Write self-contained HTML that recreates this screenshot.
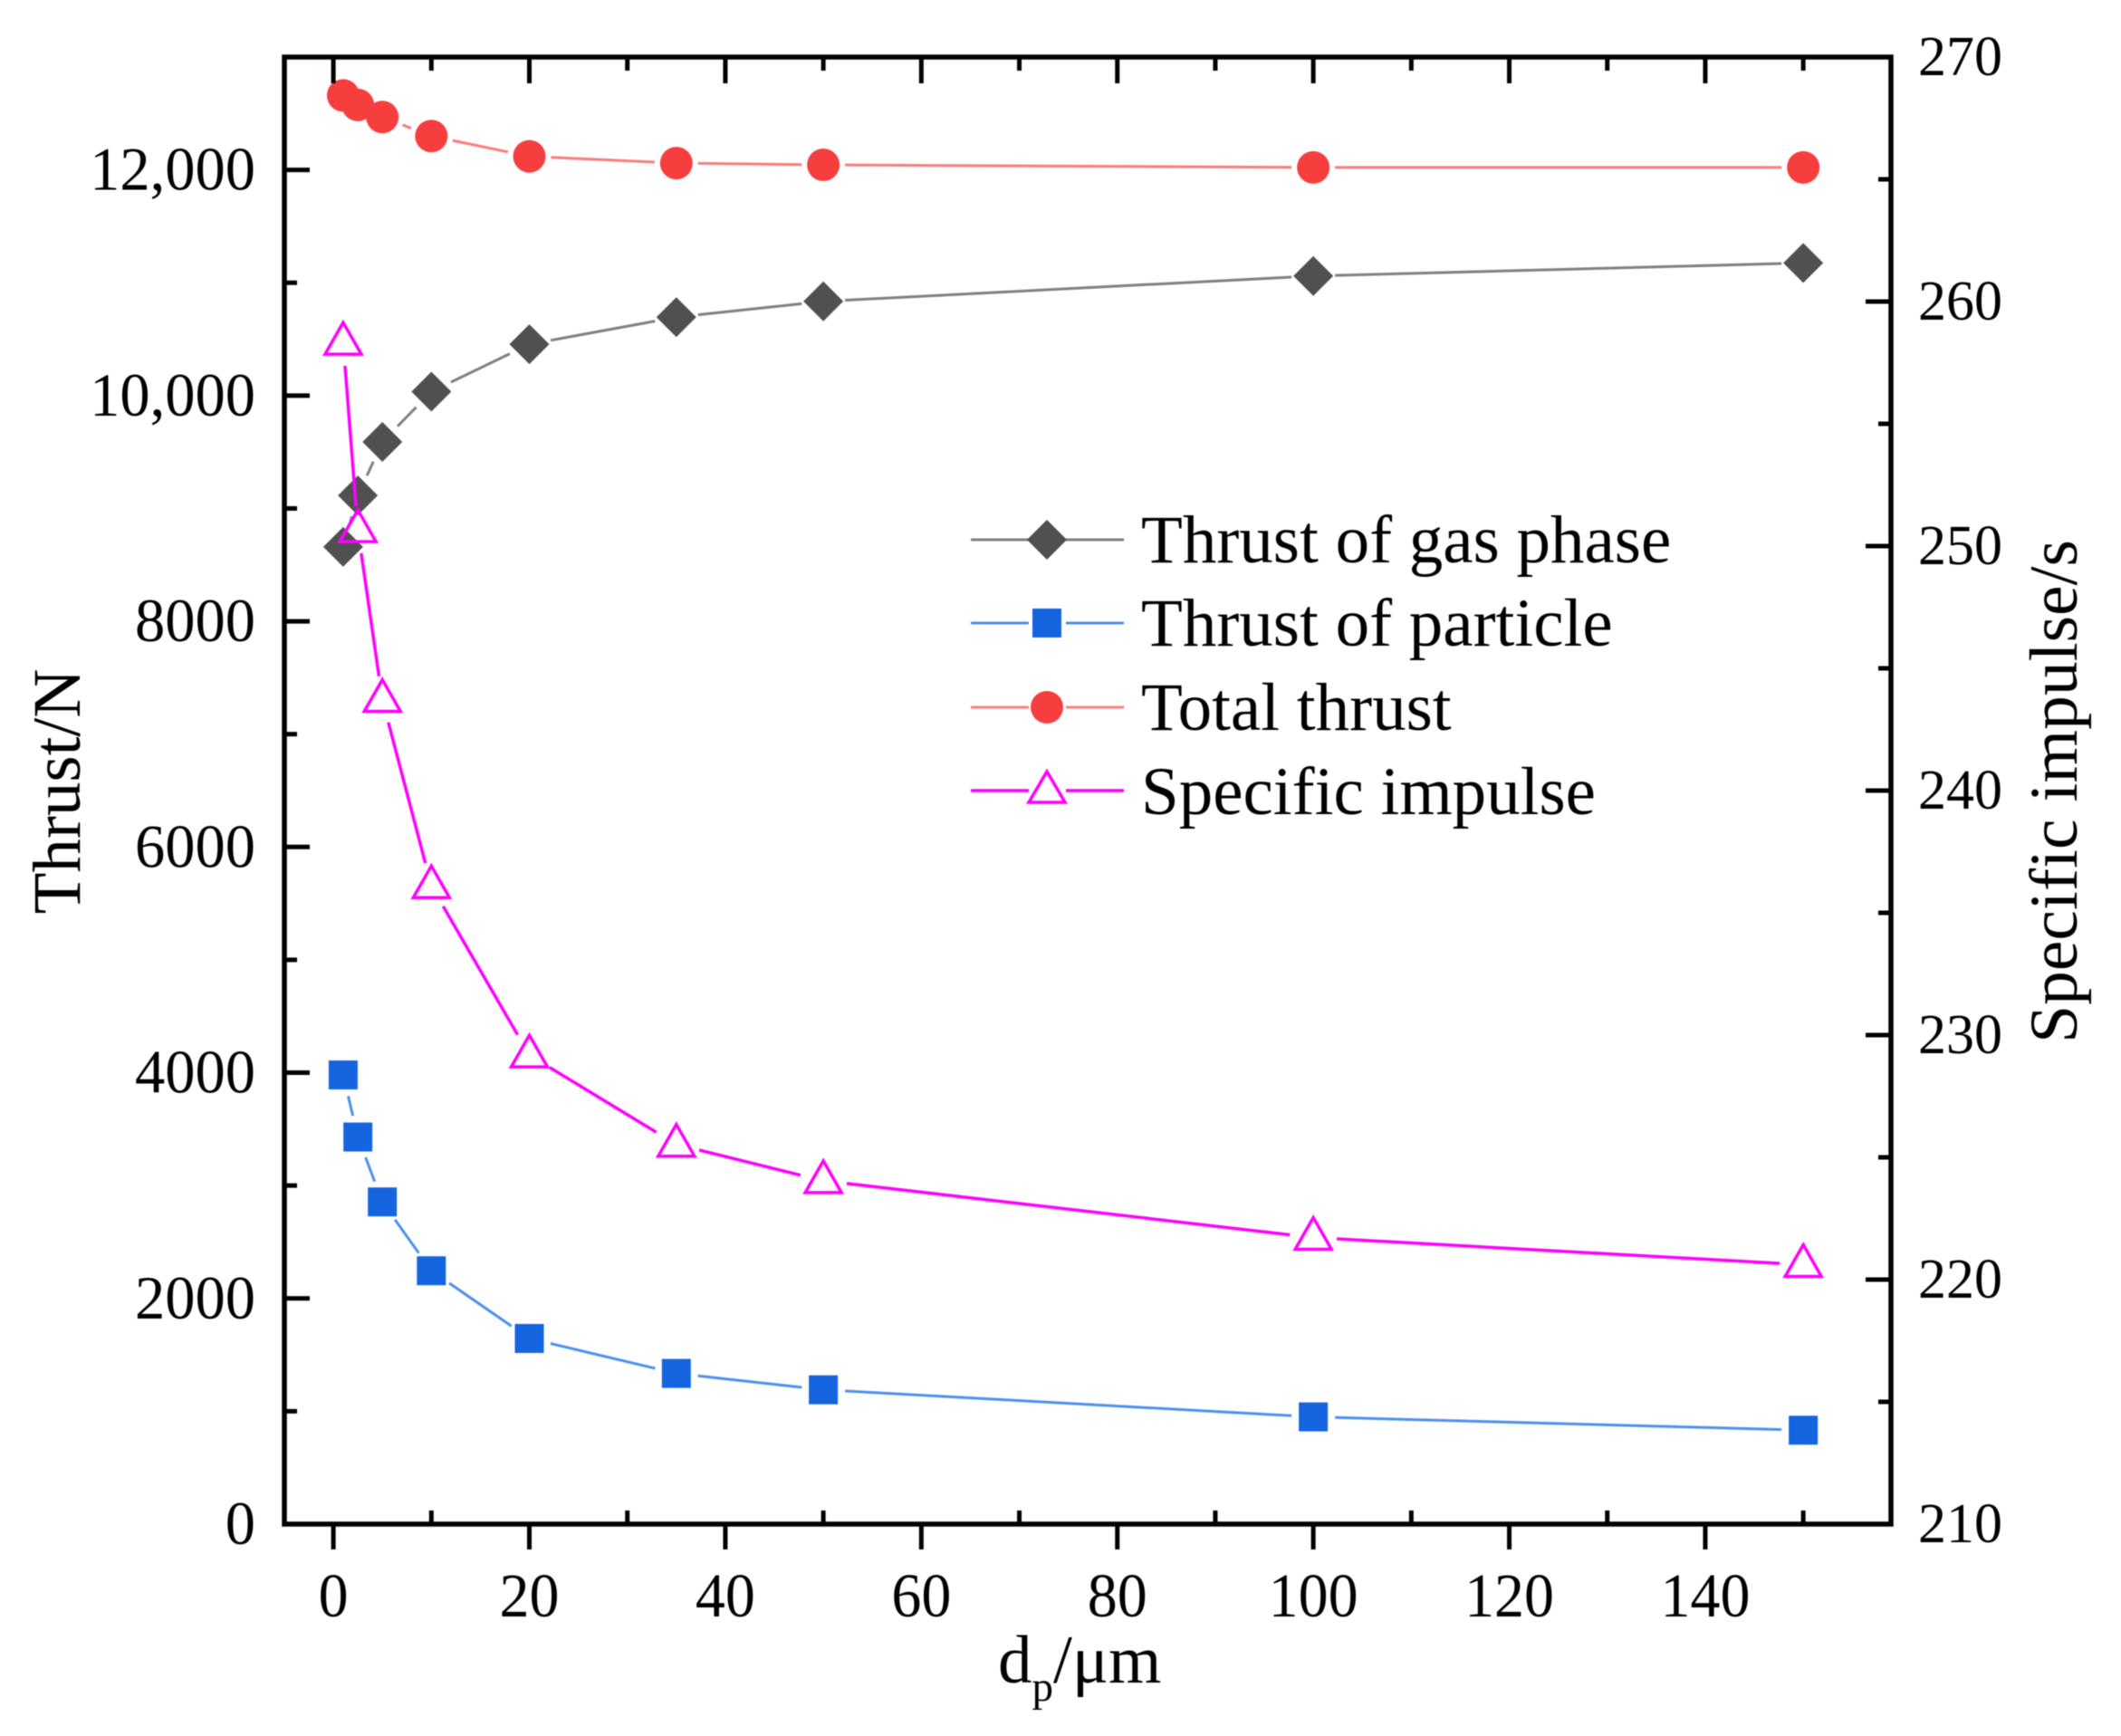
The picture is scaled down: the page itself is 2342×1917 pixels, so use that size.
<!DOCTYPE html>
<html lang="en">
<head>
<meta charset="utf-8">
<title>Thrust and specific impulse vs particle diameter</title>
<style>
html,body{margin:0;padding:0;background:#fff;}
svg{display:block;filter:blur(0.6px);}
text{font-family:"Liberation Serif",serif;fill:#000;}
</style>
</head>
<body>
<svg id="chart" xmlns="http://www.w3.org/2000/svg" width="2342" height="1917" viewBox="0 0 2342 1917">
  <g id="series-layer"></g>
  <g id="axes-layer"></g>
  <text x="88" y="874" font-size="75" text-anchor="middle" transform="rotate(-90 88 874)">Thrust/N</text>
  <text x="2293" y="874" font-size="75.5" text-anchor="middle" transform="rotate(-90 2293 874)">Specific impulse/s</text>
  <text x="1102" y="1858" font-size="75">d<tspan font-size="47" dy="20">p</tspan><tspan dy="-20">/μm</tspan></text>
  <g>
    <g>
      <line x1="1072" y1="596" x2="1136" y2="596" stroke="#808080" stroke-width="3"/>
      <line x1="1177" y1="596" x2="1241" y2="596" stroke="#808080" stroke-width="3"/>
      <polygon points="1156,574 1178,596 1156,618 1134,596" fill="#505050"/>
      <text x="1260" y="621" font-size="75">Thrust of gas phase</text>
    </g>
    <g>
      <line x1="1072" y1="688" x2="1136" y2="688" stroke="#4d90f0" stroke-width="3"/>
      <line x1="1177" y1="688" x2="1241" y2="688" stroke="#4d90f0" stroke-width="3"/>
      <rect x="1140" y="672" width="32" height="32" fill="#1565e0"/>
      <text x="1260" y="713" font-size="75">Thrust of particle</text>
    </g>
    <g>
      <line x1="1072" y1="781" x2="1136" y2="781" stroke="#ff8080" stroke-width="3"/>
      <line x1="1177" y1="781" x2="1241" y2="781" stroke="#ff8080" stroke-width="3"/>
      <circle cx="1156" cy="781" r="18" fill="#f73e3e"/>
      <text x="1260" y="806" font-size="75">Total thrust</text>
    </g>
    <g>
      <line x1="1072" y1="873" x2="1136" y2="873" stroke="#ff00ff" stroke-width="3.5"/>
      <line x1="1177" y1="873" x2="1241" y2="873" stroke="#ff00ff" stroke-width="3.5"/>
      <polygon points="1156,852 1176,886 1136,886" fill="#fff" stroke="#ff00ff" stroke-width="3.5"/>
      <text x="1260" y="899" font-size="75">Specific impulse</text>
    </g>
  </g>
</svg>
<script>
const diameters = [1, 2.5, 5, 10, 20, 35, 50, 100, 150];
const gasThrust = [8660, 9115, 9590, 10035, 10455, 10695, 10835, 11060, 11175];
const particleThrust = [3980, 3430, 2855, 2245, 1645, 1335, 1190, 950, 832];
const totalThrust = [12660, 12576, 12468, 12300, 12120, 12060, 12045, 12022, 12022];
const specificImpulse = [258.33, 250.66, 243.72, 236.1, 229.18, 225.53, 224.04, 221.72, 220.61];
const xTickValues = [0, 20, 40, 60, 80, 100, 120, 140];
const xMinorValues = [10, 30, 50, 70, 90, 110, 130, 150];
const leftTickValues = [0, 2000, 4000, 6000, 8000, 10000, 12000];
const leftTickLabels = ['0', '2000', '4000', '6000', '8000', '10,000', '12,000'];
const leftMinorValues = [1000, 3000, 5000, 7000, 9000, 11000, 13000];
const rightTickValues = [210, 220, 230, 240, 250, 260, 270];
const rightMinorValues = [215, 225, 235, 245, 255, 265];

const NS = 'http://www.w3.org/2000/svg';
const plotLeft = 314, plotRight = 2088, plotTop = 63, plotBottom = 1683;
const xDomain = [-5, 158.95], leftDomain = [0, 13000], rightDomain = [210, 270];
function xScale(v) { return plotLeft + (v - xDomain[0]) / (xDomain[1] - xDomain[0]) * (plotRight - plotLeft); }
function leftScale(v) { return plotBottom - (v - leftDomain[0]) / (leftDomain[1] - leftDomain[0]) * (plotBottom - plotTop); }
function rightScale(v) { return plotBottom - (v - rightDomain[0]) / (rightDomain[1] - rightDomain[0]) * (plotBottom - plotTop); }

function make(tag, attrs, parent) {
  const el = document.createElementNS(NS, tag);
  for (const k in attrs) el.setAttribute(k, attrs[k]);
  parent.appendChild(el);
  return el;
}
const seriesLayer = document.getElementById('series-layer');
const axesLayer = document.getElementById('axes-layer');

function tick(x1, y1, x2, y2, w, name) {
  const t = make('line', { x1: x1, y1: y1, x2: x2, y2: y2, stroke: '#000', 'stroke-width': w }, axesLayer);
  
  
}
function label(x, y, str, anchor, size, stretch, name) {
  const t = make('text', { 'text-anchor': anchor, 'font-size': size, transform: 'translate(' + x + ' ' + y + ') scale(1 ' + stretch + ')' }, axesLayer);
  t.textContent = str;
  
  
}

const frame = make('rect', { x: plotLeft, y: plotTop, width: plotRight - plotLeft, height: plotBottom - plotTop, fill: 'none', stroke: '#000', 'stroke-width': 5.5 }, axesLayer);



xTickValues.forEach(function (v) {
  const x = xScale(v);
  tick(x, plotBottom, x, plotBottom + 28, 5, 'x-major-tick');
  tick(x, plotTop, x, plotTop + 29, 5, 'x-top-major-tick');
  label(x, 1785, String(v), 'middle', 66, 1.05, 'x-tick-label');
});
xMinorValues.forEach(function (v) {
  const x = xScale(v);
  tick(x, plotBottom, x, plotBottom - 15, 5, 'x-minor-tick');
  tick(x, plotTop, x, plotTop + 15, 5, 'x-top-minor-tick');
});
leftTickValues.forEach(function (v, i) {
  const y = leftScale(v);
  tick(plotLeft, y, plotLeft + 28, y, 5, 'left-major-tick');
  label(282, y + 22, leftTickLabels[i], 'end', 66.5, 1.02, 'left-tick-label');
});
leftMinorValues.forEach(function (v) {
  const y = leftScale(v);
  tick(plotLeft, y, plotLeft + 14, y, 5, 'left-minor-tick');
});
rightTickValues.forEach(function (v) {
  const y = rightScale(v);
  tick(plotRight, y, plotRight - 28, y, 5, 'right-major-tick');
  label(2118, y + 20, String(v), 'start', 62, 1, 'right-tick-label');
});
rightMinorValues.forEach(function (v) {
  const y = rightScale(v);
  tick(plotRight, y, plotRight - 14, y, 5, 'right-minor-tick');
});

function drawSegments(values, yFn, color, width, gap, name) {
  for (let i = 0; i < values.length - 1; i++) {
    const x1 = xScale(diameters[i]), y1 = yFn(values[i]);
    const x2 = xScale(diameters[i + 1]), y2 = yFn(values[i + 1]);
    const d = Math.hypot(x2 - x1, y2 - y1);
    if (d <= gap * 2) continue;
    const ux = (x2 - x1) / d, uy = (y2 - y1) / d;
    const seg = make('line', {
      x1: x1 + ux * gap, y1: y1 + uy * gap,
      x2: x2 - ux * gap, y2: y2 - uy * gap,
      stroke: color, 'stroke-width': width
    }, seriesLayer);
    
    
  }
}

drawSegments(gasThrust, leftScale, '#808080', 3, 24, 'gas-thrust');
gasThrust.forEach(function (v, i) {
  const x = xScale(diameters[i]), y = leftScale(v);
  const m = make('polygon', { points: [x, y - 22, x + 22, y, x, y + 22, x - 22, y].join(','), fill: '#505050' }, seriesLayer);
  
  
});

drawSegments(particleThrust, leftScale, '#4d90f0', 3, 24, 'particle-thrust');
particleThrust.forEach(function (v, i) {
  const x = xScale(diameters[i]), y = leftScale(v);
  const m = make('rect', { x: x - 16, y: y - 16, width: 32, height: 32, fill: '#1565e0' }, seriesLayer);
  
  
});

drawSegments(totalThrust, leftScale, '#ff7a7a', 3, 24, 'total-thrust');
totalThrust.forEach(function (v, i) {
  const m = make('circle', { cx: xScale(diameters[i]), cy: leftScale(v), r: 18, fill: '#f73e3e' }, seriesLayer);
  
  
});

drawSegments(specificImpulse, rightScale, '#ff00ff', 3.5, 26, 'specific-impulse');
specificImpulse.forEach(function (v, i) {
  const x = xScale(diameters[i]), y = rightScale(v);
  const m = make('polygon', { points: [x, y - 22, x + 20, y + 13, x - 20, y + 13].join(','), fill: 'none', stroke: '#ff00ff', 'stroke-width': 3.5 }, seriesLayer);
  
  
});
</script>
</body>
</html>
